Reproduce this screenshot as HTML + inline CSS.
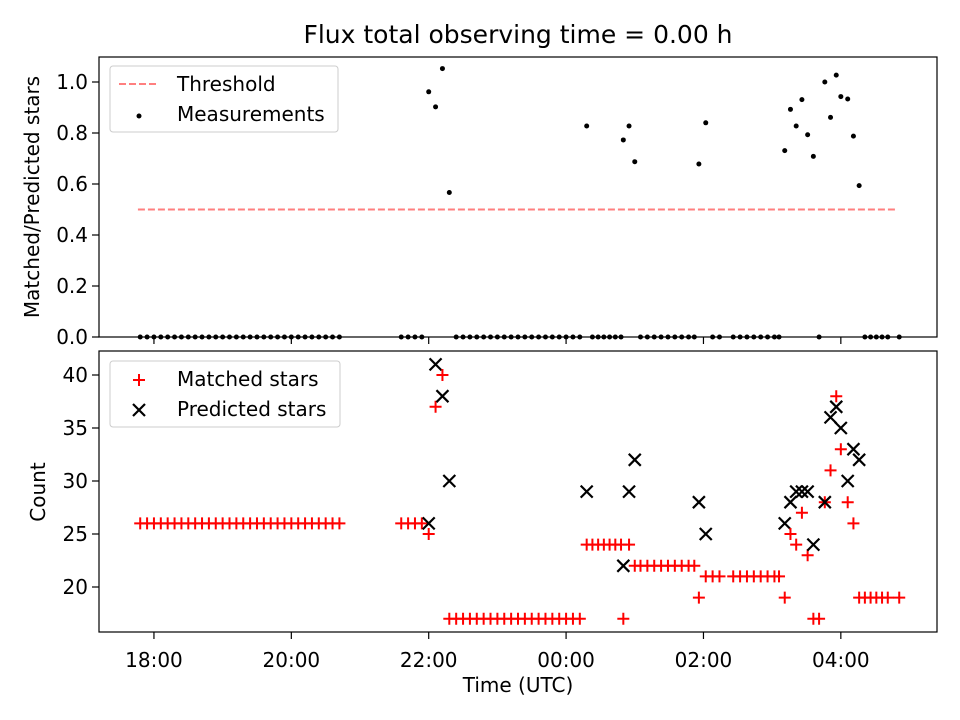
<!DOCTYPE html>
<html><head><meta charset="utf-8"><style>body{margin:0;background:#fff}svg{display:block;font-family:"DejaVu Sans","Liberation Sans",sans-serif}</style></head>
<body>
<svg id="c" width="960" height="720"></svg>
<script>
// minutes after 18:00 UTC
const times=[-12,-6,0,6,12,18,24,30,36,42,48,54,60,66,72,78,84,90,96,102,108,114,120,126,132,138,144,150,156,162,
216,222,228,234,240,246,252,258,
264,270,276,282,288,294,300,306,312,318,324,330,336,342,348,354,360,366,372,
378,383,388,393,398,403,408,410,415,420,
425,431,437,443,449,455,461,467,472,476,482,488,494,
506,512,518,524,530,536,542,546,551,556,561,566,571,576,581,586,591,596,600,606,611,616,621,626,631,636,641,651];
const matched=[26,26,26,26,26,26,26,26,26,26,26,26,26,26,26,26,26,26,26,26,26,26,26,26,26,26,26,26,26,26,
26,26,26,26,25,37,40,17,
17,17,17,17,17,17,17,17,17,17,17,17,17,17,17,17,17,17,17,
24,24,24,24,24,24,24,17,24,22,
22,22,22,22,22,22,22,22,22,19,21,21,21,
21,21,21,21,21,21,21,21,19,25,24,27,23,17,17,28,31,38,33,28,26,19,19,19,19,19,19,19];
const predicted=[null,null,null,null,null,null,null,null,null,null,null,null,null,null,null,null,null,null,null,null,null,null,null,null,null,null,null,null,null,null,
null,null,null,null,26,41,38,30,
null,null,null,null,null,null,null,null,null,null,null,null,null,null,null,null,null,null,null,
29,null,null,null,null,null,null,22,29,32,
null,null,null,null,null,null,null,null,null,28,25,null,null,
null,null,null,null,null,null,null,null,26,28,29,29,29,24,null,28,36,37,35,30,33,32,null,null,null,null,null,null];
const threshold=0.5, thrStart=-14, thrEnd=648;
const xTicks=[0,120,240,360,480,600], xTickLabels=["18:00","20:00","22:00","00:00","02:00","04:00"];
const topTicks=[0,0.2,0.4,0.6,0.8,1.0], botTicks=[20,25,30,35,40];

const NS="http://www.w3.org/2000/svg", svg=document.getElementById('c');
const L=99,R=937,T1=57,B1=337,T2=351,B2=632;
const FS=20;
const X=m=>L+(m+48)/732*(R-L);
const Y1=v=>B1-v*255;
const Y2=v=>375+(40-v)*10.6;
function el(t,a,p){const e=document.createElementNS(NS,t);for(const k in a)e.setAttribute(k,a[k]);(p||svg).appendChild(e);return e;}
function txt(s,a,p){const e=el('text',a,p);e.textContent=s;return e;}

let t=txt("Flux total observing time = 0.00 h",{x:518,y:43,'text-anchor':'middle','font-size':25});



let g1=el('g',{});


let thr=el('line',{x1:X(thrStart),x2:X(thrEnd),y1:Y1(threshold),y2:Y1(threshold),stroke:'#ff7f7f','stroke-width':2,'stroke-dasharray':'7,3'},g1);


times.forEach((m,i)=>{const r=predicted[i]?matched[i]/predicted[i]:0;
 const c=el('circle',{cx:X(m),cy:Y1(r),r:2.5,fill:'#000'},g1);
 
 });

let g2=el('g',{});


times.forEach((m,i)=>{const x=X(m),y=Y2(matched[i]);
 const p=el('path',{d:`M${x-6},${y}H${x+6}M${x},${y-6}V${y+6}`,stroke:'red','stroke-width':2},g2);
 
 
 if(predicted[i]!=null){const yp=Y2(predicted[i]);
  const q=el('path',{d:`M${x-6},${yp-6}L${x+6},${yp+6}M${x-6},${yp+6}L${x+6},${yp-6}`,stroke:'#000','stroke-width':2.2},g2);
  
  }});

[[T1,B1],[T2,B2]].forEach(([a,b],k)=>{
 const f=el('rect',{x:L,y:a,width:R-L,height:b-a,fill:'none',stroke:'#000','stroke-width':1.2});
 
 
 xTicks.forEach((m,i)=>{el('line',{x1:X(m),x2:X(m),y1:b,y2:b+7,stroke:'#000','stroke-width':1.2});
  if(k){const l=txt(xTickLabels[i],{x:X(m),y:b+35,'text-anchor':'middle','font-size':FS});
   
   }});
});
topTicks.forEach(v=>{el('line',{x1:L-7,x2:L,y1:Y1(v),y2:Y1(v),stroke:'#000','stroke-width':1.2});
 const l=txt(v.toFixed(1),{x:L-11,y:Y1(v)+7,'text-anchor':'end','font-size':FS});
 
 });
botTicks.forEach(v=>{el('line',{x1:L-7,x2:L,y1:Y2(v),y2:Y2(v),stroke:'#000','stroke-width':1.2});
 const l=txt(String(v),{x:L-11,y:Y2(v)+7,'text-anchor':'end','font-size':FS});
 
 });
let xl=txt("Time (UTC)",{x:518,y:692,'text-anchor':'middle','font-size':FS});


let y1=txt("Matched/Predicted stars",{x:0,y:0,'text-anchor':'middle','font-size':FS,transform:`translate(39,197) rotate(-90)`});


let y2=txt("Count",{x:0,y:0,'text-anchor':'middle','font-size':FS,transform:`translate(45,492) rotate(-90)`});



let lg1=el('g',{});


el('rect',{x:110,y:66,width:228,height:66,rx:3,fill:'#fff',stroke:'#ccc'},lg1);
el('line',{x1:119,x2:159,y1:84,y2:84,stroke:'#ff7f7f','stroke-width':2,'stroke-dasharray':'7,3'},lg1);
el('circle',{cx:139,cy:116,r:2.5,fill:'#000'},lg1);
let a=txt("Threshold",{x:177,y:91,'font-size':FS},lg1);


a=txt("Measurements",{x:177,y:121,'font-size':FS},lg1);


let lg2=el('g',{});


el('rect',{x:110,y:361,width:230,height:66,rx:3,fill:'#fff',stroke:'#ccc'},lg2);
el('path',{d:'M133,380H145M139,374V386',stroke:'red','stroke-width':2},lg2);
el('path',{d:'M133,404L145,416M133,416L145,404',stroke:'#000','stroke-width':2.2},lg2);
a=txt("Matched stars",{x:177,y:386,'font-size':FS},lg2);


a=txt("Predicted stars",{x:177,y:416,'font-size':FS},lg2);


</script>
</body></html>
